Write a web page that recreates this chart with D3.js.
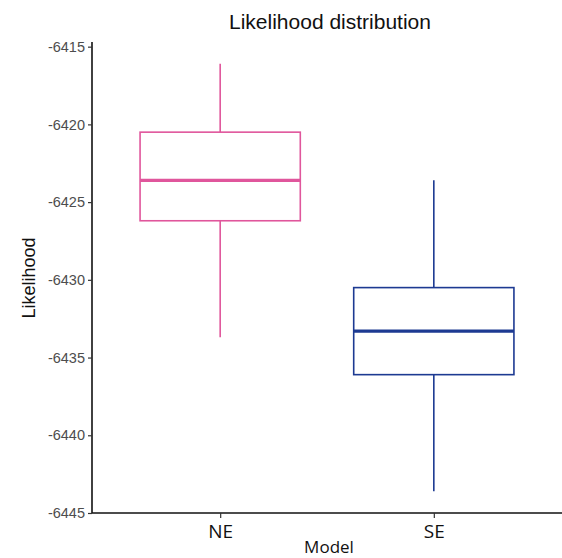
<!DOCTYPE html>
<html>
<head>
<meta charset="utf-8">
<script src="https://cdn.jsdelivr.net/npm/d3@7"></script>
<style>
	body { margin: 0; background: #fff; }
	.axis text { font-family: "Liberation Sans", Arial, sans-serif; }
</style>
</head>
<body>
<div id="chart"></div>
<script>
// boxplot summary
const models = ["NE", "SE"];
const whiskerLow = [-6433.7, -6443.6];
const q1 = [-6426.2, -6436.1];
const median = [-6423.6, -6433.3];
const q3 = [-6420.5, -6430.5];
const whiskerHigh = [-6416.1, -6423.6];
const colors = ["#e0569c", "#1d3a92"];
const yTicks = [-6445, -6440, -6435, -6430, -6425, -6420, -6415];

let width = 562,
	height = 558;
let margin = { top: 42, right: 0, bottom: 45, left: 92 };

let svg = d3.select("#chart").append("svg").attr("width", width).attr("height", height);

let x = d3
	.scalePoint()
	.domain(models)
	.range([margin.left, width - margin.right])
	.padding(0.6);

let y = d3
	.scaleLinear()
	.domain([-6445, -6414.7])
	.range([height - margin.bottom, margin.top]);

let boxes = models.map((m, i) => ({
	model: m,
	lo: whiskerLow[i],
	q1: q1[i],
	med: median[i],
	q3: q3[i],
	hi: whiskerHigh[i],
	color: colors[i],
}));

let boxW = x.step() * 0.75;

let g = svg.selectAll(".box").data(boxes).enter().append("g").attr("class", "box");

// whiskers
g.append("line")
	.attr("x1", (d) => x(d.model))
	.attr("x2", (d) => x(d.model))
	.attr("y1", (d) => y(d.hi))
	.attr("y2", (d) => y(d.q3))
	.attr("stroke", (d) => d.color)
	.attr("stroke-width", 1.6);
g.append("line")
	.attr("x1", (d) => x(d.model))
	.attr("x2", (d) => x(d.model))
	.attr("y1", (d) => y(d.q1))
	.attr("y2", (d) => y(d.lo))
	.attr("stroke", (d) => d.color)
	.attr("stroke-width", 1.6);

g.append("rect")
	.attr("x", (d) => x(d.model) - boxW / 2)
	.attr("width", boxW)
	.attr("y", (d) => y(d.q3))
	.attr("height", (d) => y(d.q1) - y(d.q3))
	.attr("fill", "white")
	.attr("stroke", (d) => d.color)
	.attr("stroke-width", 1.6);

g.append("line")
	.attr("x1", (d) => x(d.model) - boxW / 2)
	.attr("x2", (d) => x(d.model) + boxW / 2)
	.attr("y1", (d) => y(d.med))
	.attr("y2", (d) => y(d.med))
	.attr("stroke", (d) => d.color)
	.attr("stroke-width", 3.2);

// axes
let yAxis = d3
	.axisLeft(y)
	.tickValues(yTicks)
	.tickFormat((d) => String(d))
	.tickSize(4)
	.tickPadding(3);
let yG = svg
	.append("g")
	.attr("class", "axis")
	.attr("transform", `translate(${margin.left},0)`)
	.call(yAxis);
yG.selectAll("text").attr("font-size", 14.5).attr("fill", "#4d4d4d");
yG.selectAll("line").attr("stroke", "#333").attr("stroke-width", 1.2);
yG.select(".domain").attr("stroke", "#111").attr("stroke-width", 1.6).attr("d", `M0,${y(-6414.7)}V${y(-6445)}`);

let xAxis = d3.axisBottom(x).tickSize(5).tickPadding(7);
let xG = svg
	.append("g")
	.attr("class", "axis")
	.attr("transform", `translate(0,${height - margin.bottom})`)
	.call(xAxis);
xG.selectAll("text")
	.attr("font-size", 19)
	.attr("fill", "#111")
	.style("font-family", "'Open Sans', 'Noto Sans', sans-serif");
xG.selectAll("line").attr("stroke", "#333").attr("stroke-width", 1.2);
xG.select(".domain").attr("stroke", "#111").attr("stroke-width", 1.6).attr("d", `M${margin.left},0H${width}`);

// labels
svg.append("text")
	.attr("x", 330)
	.attr("y", 29)
	.attr("text-anchor", "middle")
	.attr("font-family", "Liberation Sans, Arial, sans-serif")
	.attr("font-size", 21)
	.attr("fill", "#111")
	.text("Likelihood distribution");

svg.append("text")
	.attr("transform", "translate(35,278) rotate(-90)")
	.attr("text-anchor", "middle")
	.attr("font-family", "Liberation Sans, Arial, sans-serif")
	.attr("font-size", 18)
	.attr("fill", "#111")
	.text("Likelihood");

svg.append("text")
	.attr("x", 329)
	.attr("y", 553)
	.attr("text-anchor", "middle")
	.attr("font-family", "'Open Sans', 'Noto Sans', sans-serif")
	.attr("font-size", 17)
	.attr("fill", "#111")
	.text("Model");
</script>
</body>
</html>
